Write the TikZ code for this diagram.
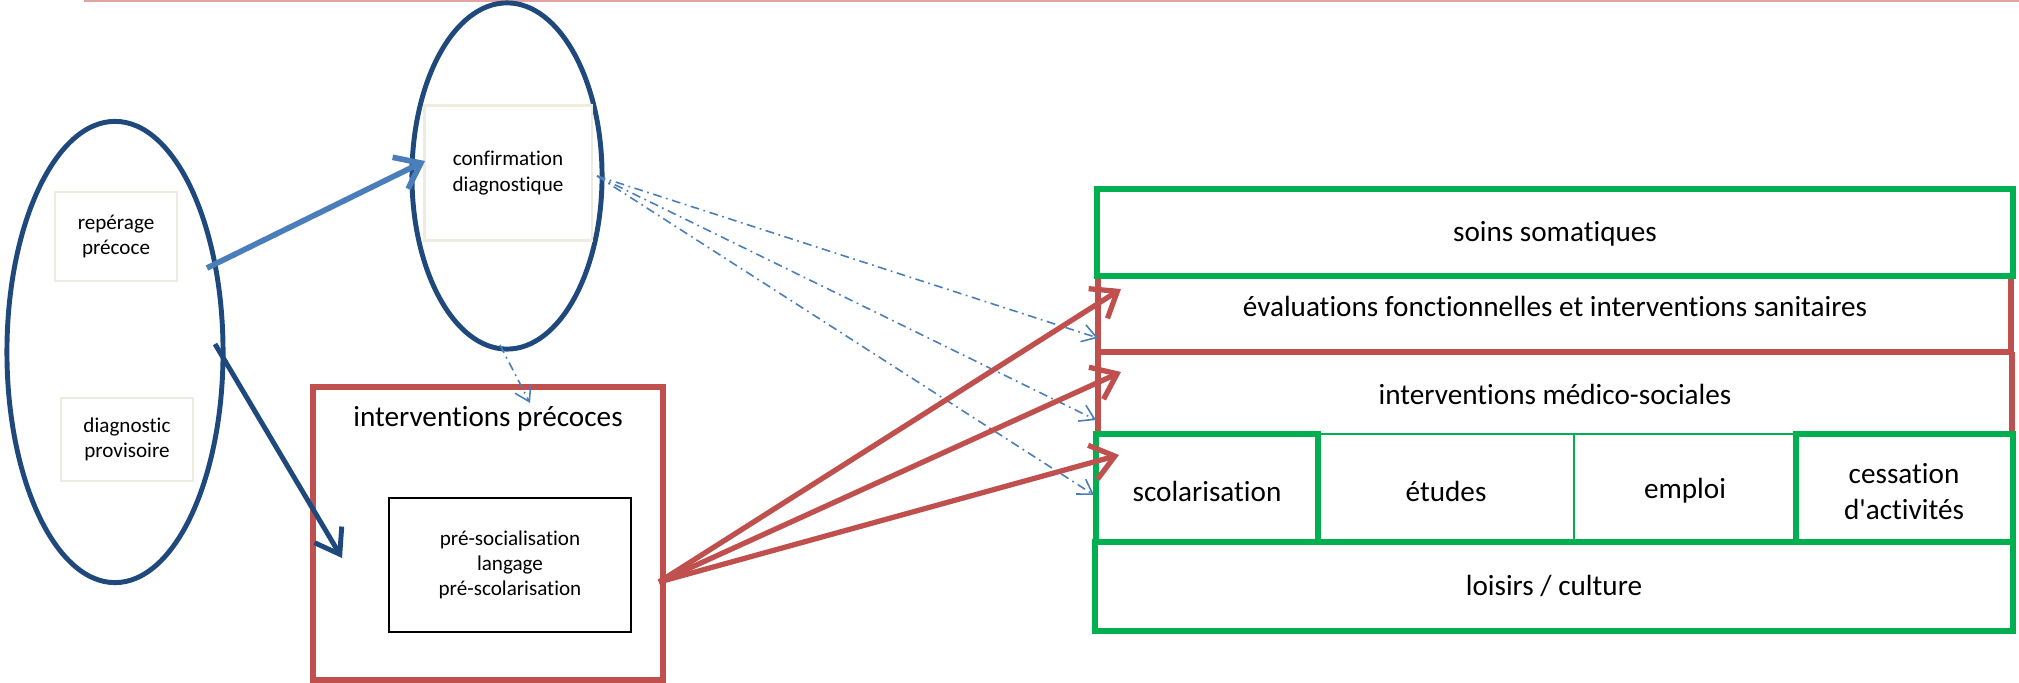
\documentclass[tikz,border=0pt]{standalone}
\usepackage{fontspec}
\setmainfont{Carlito}[Ligatures={NoCommon}]
\usetikzlibrary{shapes.geometric,arrows.meta}
\definecolor{darkblue}{HTML}{1F497D}
\definecolor{lightblue}{HTML}{4A7EBB}
\definecolor{redline}{HTML}{C0504D}
\definecolor{greenline}{HTML}{00B050}
\definecolor{beige}{HTML}{EEECE1}
\definecolor{pinkline}{HTML}{E3A3A2}
\begin{document}
\begin{tikzpicture}[x=0.01cm,y=-0.01cm,
    small/.style={font=\fontsize{6}{7.2}\selectfont,align=center,inner sep=0pt},
    big/.style={font=\fontsize{8.3}{10.2}\selectfont,align=center,inner sep=0pt},
    beigebox/.style={draw=beige,line width=0.6pt,inner sep=0pt},
    blueoval/.style={ellipse,draw=darkblue,line width=1.4pt,inner sep=0pt},
    greenthick/.style={draw=greenline,line width=1.5pt},
    greenthin/.style={draw=greenline,line width=0.45pt},
    redthick/.style={draw=redline,line width=1.5pt},
    redlink/.style={draw=redline,line width=1.5pt,-{Straight Barb[length=6.5pt,width=10pt]}},
    dashlink/.style={draw=lightblue,line width=0.45pt,dash pattern=on 2.5pt off 1.3pt on 0.5pt off 1.3pt,-{Straight Barb[length=4pt,width=5pt]}}]
\useasboundingbox (0,0) rectangle (2019,683);
\draw[pinkline, line width=0.7pt] (84,1) -- (2019,1);

\node[blueoval, minimum width=2.16cm, minimum height=4.61cm] (leftoval) at (115,352) {};
\node[blueoval, minimum width=1.90cm, minimum height=3.46cm] (midoval) at (507,176) {};
\node[beigebox, small, minimum width=1.22cm, minimum height=0.89cm] (reperage) at (116,236.5) {repérage\\précoce};
\node[beigebox, small, minimum width=1.32cm, minimum height=0.83cm] (provisoire) at (127,439.5) {diagnostic\\provisoire};
\node[beigebox, small, minimum width=1.67cm, minimum height=1.35cm] (confirmation) at (508,173) {confirmation\\diagnostique};

\node[redthick, line width=1.7pt, minimum width=3.5cm, minimum height=2.93cm, inner sep=0pt] (precoces) at (488,533.5) {};
\node[big] (precocestitle) at (488,419) {interventions précoces};
\node[draw=black, line width=0.6pt, small, minimum width=2.42cm, minimum height=1.34cm] (contenu) at (510,565) {pré-socialisation\\langage\\pré-scolarisation};

\draw[redthick] (1098,276) rectangle (2011,352);
\draw[redthick] (1098,352) -- (1098,434) (2012,352) -- (2012,434);
\draw[greenthick] (1097,189) rectangle (2013,276);
\draw[greenthin] (1318,434) rectangle (1796,542) (1574,434) -- (1574,542);
\draw[greenthick] (1096,434) rectangle (1318,542);
\draw[greenthick] (1796,434) rectangle (2013,542);
\draw[greenthick] (1095,542) rectangle (2013,631);
\node[big] (soins) at (1555,234) {soins somatiques};
\node[big] (evaluations) at (1555,306) {évaluations fonctionnelles et interventions sanitaires};
\node[big] (medicosoc) at (1555,394) {interventions médico-sociales};
\node[big] (scolarisation) at (1207,491) {scolarisation};
\node[big] (etudes) at (1446,491) {études};
\node[big] (emploi) at (1685,491) {emploi};
\node[big] (cessation) at (1904,492) {cessation\\d\textquotesingle activités};
\node[big] (loisirs) at (1554,586) {loisirs / culture};

\coordinate (repout) at (207,268);
\coordinate (confin) at (425,161);
\coordinate (provout) at (215,344);
\coordinate (precin) at (342,558);
\coordinate (confout) at (597,176);
\coordinate (ovalout) at (500,345);
\coordinate (precocestop) at (530,403);
\coordinate (evalin) at (1098,338);
\coordinate (medin) at (1096,420);
\coordinate (scolin) at (1094,495);
\coordinate (precout) at (659,582);

\draw[lightblue, line width=1.6pt, -{Straight Barb[length=6.5pt,width=10pt]}] (repout) -- (confin);
\draw[darkblue, line width=1.4pt, -{Straight Barb[length=6.5pt,width=9pt]}] (provout) -- (precin);
\draw[dashlink] (ovalout) -- (precocestop);
\draw[dashlink] (confout) -- (evalin);
\draw[dashlink] (confout) -- (medin);
\draw[dashlink] (confout) -- (scolin);
\draw[redlink] (precout) -- (1121,289);
\draw[redlink] (precout) -- (1121,372);
\draw[redlink] (precout) -- (1119,455);
\end{tikzpicture}
\end{document}
